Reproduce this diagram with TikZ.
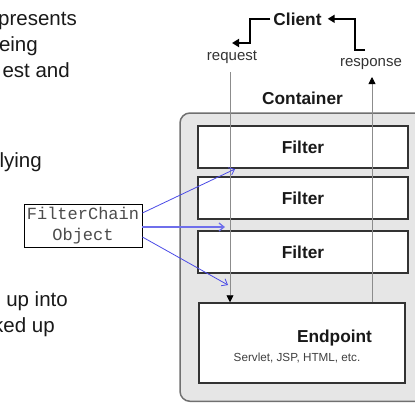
\documentclass[tikz,border=0pt]{standalone}
\usepackage{fontspec}
\setmainfont{Liberation Sans}
\setmonofont{Liberation Mono}
\usetikzlibrary{arrows.meta}
\definecolor{contfill}{HTML}{E6E6E6}
\definecolor{contline}{HTML}{707070}
\definecolor{chainblue}{HTML}{4B4BE6}
\begin{document}
\begin{tikzpicture}[x=1pt,y=-1pt,
  box/.style={draw=black!80, line width=1.5pt, fill=white, inner sep=0pt},
  lbl/.style={font=\fontsize{15}{15}\selectfont, inner sep=0pt, text=black!80, anchor=base},
  slide/.style={font=\fontsize{20.5}{24}\selectfont, inner sep=0pt, anchor=base east, text=black!90},
  boldlbl/.style={font=\fontsize{17.3}{17}\selectfont\bfseries, inner sep=0pt, anchor=base, text=black!90},
  flow/.style={draw=black!45, line width=0.8pt, -{Triangle[length=7pt,width=7pt,color=black]}},
  chain/.style={draw=chainblue, line width=0.8pt, -{Straight Barb[length=5pt,width=8pt]}},
  bracket/.style={draw=black, line width=1.8pt, -{Triangle[length=7pt,width=8pt]}}
]
\useasboundingbox (0,0) rectangle (415,402);
\clip (0,0) rectangle (415,402);

% clipped slide text on the left
\node[slide] (s1) at (77,25) {presents};
\node[slide] (s2) at (38,51) {eing};
\node[slide] (s3) at (70,77) {est and};
\node[slide] (s4) at (42,167) {lying};
\node[slide] (s5) at (68,306) {up into};
\node[slide] (s6) at (55,332) {ked up};

% container
\draw[draw=contline, line width=1.5pt, fill=contfill, rounded corners=10pt]
  (180,113) rectangle (445,401.3);
\node[boldlbl] (cont) at (302.5,104) {Container};

% filters and endpoint
\node[box, minimum width=210pt, minimum height=42pt] (f1) at (303,147) {};
\node[box, minimum width=210pt, minimum height=42pt] (f2) at (303,198) {};
\node[box, minimum width=210pt, minimum height=42pt] (f3) at (303,252) {};
\node[box, minimum width=206pt, minimum height=80pt] (ep) at (302,343) {};
\node[boldlbl] (f1t) at (303,153) {Filter};
\node[boldlbl] (f2t) at (303,204) {Filter};
\node[boldlbl] (f3t) at (303,258) {Filter};
\node[boldlbl] (ept) at (334.5,342) {Endpoint};
\node[font=\fontsize{11.7}{12}\selectfont, inner sep=0pt, anchor=base, text=black!75] (eps) at (297,361) {Servlet, JSP, HTML, etc.};

% client and labels
\node[boldlbl] (client) at (297.5,25) {Client};
\node[lbl] (req) at (232,60) {request};
\node[lbl] (resp) at (371,66) {response};

% bracket arrows
\coordinate (lb) at (250,43);
\draw[bracket] ([xshift=-3pt]client.west) -| (lb) -- (req.center |- lb);
\coordinate (rbend) at (365,50);
\coordinate (rb) at (355,50);
\draw[bracket] (rbend) -- (rb) |- ([xshift=6pt]client.east);

% request / response flow
\coordinate (reqtop) at (230,72);
\draw[flow] (reqtop) -- (reqtop |- ep.north);
\coordinate (resptip) at (372,77);
\draw[flow] (resptip |- ep.north) -- (resptip);

% filter chain object
\node[draw=black, line width=0.8pt, fill=white, minimum width=118pt, minimum height=43pt,
      inner sep=0pt, align=center, text=black!70,
      font=\ttfamily\fontsize{17}{21}\selectfont] (fc) at (83,225.5) {FilterChain\\Object};
\coordinate (t1) at (235,169);
\coordinate (t2) at (225,227);
\coordinate (t3) at (228,285);
\draw[chain] ([yshift=12.5pt]fc.east) -- (t1);
\draw[chain, line width=1.3pt, draw=chainblue!80] ([yshift=-1.5pt]fc.east) -- (t2);
\draw[chain] ([yshift=-11.5pt]fc.east) -- (t3);
\end{tikzpicture}
\end{document}
